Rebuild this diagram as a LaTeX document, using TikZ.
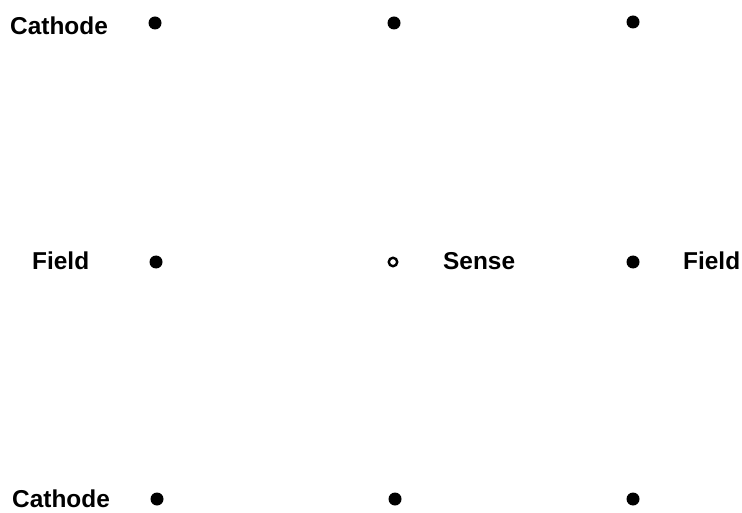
\documentclass[tikz,border=0pt]{standalone}
\usepackage{fontspec}
\setmainfont{Liberation Sans}
\usepackage{tikz}

\begin{document}
\begin{tikzpicture}[x=1bp,y=-1bp,
  wire/.style={circle,fill,inner sep=0pt,minimum size=13bp},
  sensewire/.style={circle,draw,line width=2.4bp,inner sep=0pt,minimum size=8.5bp},
  lbl/.style={anchor=base west,inner sep=0pt,font=\fontsize{24.5}{28}\selectfont\bfseries}]
\useasboundingbox (0,0) rectangle (742,513);
% top row
\node[lbl] (cathT) at (10,35) {Cathode};
\node[wire] (cT1) at (155,23) {};
\node[wire] (cT2) at (394,23) {};
\node[wire] (cT3) at (633,22) {};
% middle row
\node[lbl] (fieldL) at (32,270) {Field};
\node[wire] (f1) at (156,262) {};
\node[sensewire] (s) at (393,262) {};
\node[lbl] (sense) at (443,270) {Sense};
\node[wire] (f2) at (633,262) {};
\node[lbl] (fieldR) at (683,270) {Field};
% bottom row
\node[lbl] (cathB) at (12,507) {Cathode};
\node[wire] (cB1) at (157,499) {};
\node[wire] (cB2) at (395,499) {};
\node[wire] (cB3) at (633,499) {};
\end{tikzpicture}
\end{document}
